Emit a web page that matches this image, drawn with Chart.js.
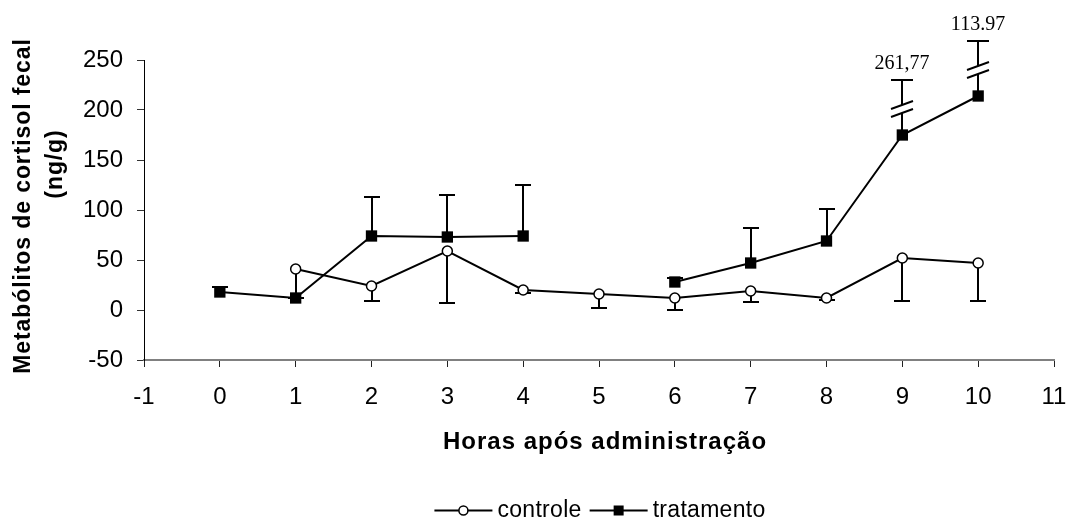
<!DOCTYPE html>
<html lang="pt">
<head>
<meta charset="utf-8">
<title>Metabólitos de cortisol fecal</title>
<script src="https://cdn.jsdelivr.net/npm/chart.js@4.4.1/dist/chart.umd.min.js"></script>
<style>
  html, body { margin: 0; padding: 0; background: #fff; }
  #wrap { width: 1071px; height: 520px; }
</style>
</head>
<body>
<div id="wrap"><canvas id="c" width="1071" height="520"></canvas></div>
<script>
// Hours after administration
const hours = [0, 1, 2, 3, 4, 5, 6, 7, 8, 9, 10];

// Control group: means and downward error (ng/g)
const controle      = [null, 41, 24, 59, 20, 16, 12, 19, 12, 52, 47];
const controleErro  = [null, 29, 15, 52, 3, 14, 12, 11, 2, 43, 38];

// Treated group: means and upward error (ng/g)
const tratamento      = [18, 12, 74, 73, 74, null, 28, 47, 69, 175, 214];
const tratamentoErro  = [5, 0, 39, 42, 51, null, 4, 35, 32, 261.77, 113.97];
const tratamentoRotulo = [null, null, null, null, null, null, null, null, null, '261,77', '113.97'];

// Axis ranges
const xMin = -1, xMax = 11, xStep = 1;
const yMin = -50, yMax = 250, yStep = 50;

const SANS = '"Liberation Sans", Arial, Helvetica, sans-serif';
const SERIF = '"Liberation Serif", "Times New Roman", serif';

Chart.defaults.font.family = SANS;
Chart.defaults.color = '#000';

const toPoints = (vals) => hours.map((h, i) => ({ x: h, y: vals[i] }));

// Vertical error bars; bars running past the top of the axis get a break mark
const errorBars = {
  id: 'errorBars',
  beforeDatasetsDraw(chart) {
    const { ctx, scales: { x, y } } = chart;
    ctx.save();
    ctx.strokeStyle = '#000';
    ctx.fillStyle = '#000';
    ctx.lineWidth = 2;
    ctx.lineCap = 'butt';
    const seg = (x1, y1, x2, y2) => { ctx.beginPath(); ctx.moveTo(x1, y1); ctx.lineTo(x2, y2); ctx.stroke(); };
    chart.data.datasets.forEach(ds => {
      const err = ds.errors, dir = ds.errorDir, labels = ds.errorLabels || [];
      ds.data.forEach((p, i) => {
        if (p.y == null || !err[i]) return;
        const px = Math.round(x.getPixelForValue(p.x));
        const py = y.getPixelForValue(p.y);
        const end = p.y + dir * err[i];
        if (dir > 0 && end > y.max) {
          const yb = py - 26;          // centre of the break
          const yc = yb - 29;          // cap above the break
          seg(px, py, px, yb + 4);
          seg(px, yb - 4, px, yc);
          seg(px - 11, yc, px + 11, yc);
          seg(px - 11, yb + 8, px + 11, yb);
          seg(px - 11, yb, px + 11, yb - 8);
          if (labels[i]) {
            ctx.font = '20px ' + SERIF;
            ctx.textAlign = 'center';
            ctx.textBaseline = 'alphabetic';
            ctx.fillText(labels[i], px, yc - 11);
          }
        } else {
          const pe = y.getPixelForValue(end);
          seg(px, py, px, pe);
          seg(px - 8, pe, px + 8, pe);
        }
      });
    });
    ctx.restore();
  }
};

// Axis titles and the legend row
const decorations = {
  id: 'decorations',
  afterDraw(chart) {
    const ctx = chart.ctx;
    ctx.save();
    ctx.fillStyle = '#000';
    ctx.strokeStyle = '#000';

    // x title
    ctx.font = 'bold 24px ' + SANS;
    ctx.letterSpacing = '1px';
    ctx.textAlign = 'center';
    ctx.textBaseline = 'alphabetic';
    ctx.fillText('Horas após administração', 605, 449);

    // y title, two rotated lines
    ctx.font = 'bold 23px ' + SANS;
    ctx.letterSpacing = '0.9px';
    ctx.save();
    ctx.translate(30, 206);
    ctx.rotate(-Math.PI / 2);
    ctx.fillText('Metabólitos de cortisol fecal', 0, 0);
    ctx.restore();
    ctx.save();
    ctx.translate(62, 164);
    ctx.rotate(-Math.PI / 2);
    ctx.fillText('(ng/g)', 0, 0);
    ctx.restore();

    // legend
    ctx.font = '23px ' + SANS;
    ctx.letterSpacing = '0.3px';
    ctx.textAlign = 'left';
    const items = chart.data.datasets.map(ds => ({ text: ds.label, style: ds.pointStyle }));
    const symW = 58, gapT = 5, gapI = 8, ly = 510.5, tb = 517;
    const widths = items.map(it => ctx.measureText(it.text).width);
    let total = 0;
    items.forEach((it, i) => { total += symW + gapT + widths[i] + (i < items.length - 1 ? gapI : 0); });
    let cx = 600 - total / 2;
    items.forEach((it, i) => {
      ctx.lineWidth = 2;
      ctx.beginPath(); ctx.moveTo(cx, ly); ctx.lineTo(cx + symW, ly); ctx.stroke();
      const mx = cx + symW / 2;
      if (it.style === 'circle') {
        ctx.beginPath(); ctx.arc(mx, ly, 4.5, 0, Math.PI * 2);
        ctx.fillStyle = '#fff'; ctx.fill();
        ctx.lineWidth = 1.5; ctx.stroke();
      } else {
        ctx.fillStyle = '#000';
        ctx.fillRect(mx - 5, ly - 5, 10, 10);
      }
      ctx.fillStyle = '#000';
      ctx.fillText(it.text, cx + symW + gapT, tb);
      cx += symW + gapT + widths[i] + gapI;
    });
    ctx.restore();
  }
};

new Chart(document.getElementById('c'), {
  type: 'line',
  data: {
    datasets: [
      {
        label: 'controle',
        data: toPoints(controle),
        errors: controleErro,
        errorDir: -1,
        borderColor: '#000',
        borderWidth: 2,
        pointStyle: 'circle',
        pointRadius: 5,
        pointHoverRadius: 5,
        pointBackgroundColor: '#fff',
        pointBorderColor: '#000',
        pointBorderWidth: 1.5,
        spanGaps: false,
        tension: 0
      },
      {
        label: 'tratamento',
        data: toPoints(tratamento),
        errors: tratamentoErro,
        errorLabels: tratamentoRotulo,
        errorDir: 1,
        borderColor: '#000',
        borderWidth: 2,
        pointStyle: 'rect',
        pointRadius: 8,
        pointHoverRadius: 8,
        pointBackgroundColor: '#000',
        pointBorderColor: '#000',
        pointBorderWidth: 0,
        spanGaps: false,
        tension: 0
      }
    ]
  },
  options: {
    responsive: false,
    animation: false,
    events: [],
    layout: { padding: { top: 60, right: 17, bottom: 0, left: 0 } },
    plugins: { legend: { display: false }, tooltip: { enabled: false } },
    scales: {
      x: {
        type: 'linear',
        min: xMin, max: xMax,
        afterFit(s) { s.height = 160; s.paddingLeft = 0; s.paddingRight = 0; },
        border: { display: true, color: '#808080', width: 2 },
        grid: { drawOnChartArea: false, drawTicks: true, tickLength: 7, color: '#222', tickWidth: 1 },
        ticks: { stepSize: xStep, padding: 16, color: '#000', font: { size: 24 }, maxRotation: 0, autoSkip: false }
      },
      y: {
        min: yMin, max: yMax,
        afterFit(s) { s.width = 144; s.paddingTop = 0; s.paddingBottom = 0; },
        border: { display: true, color: '#000', width: 1 },
        grid: { drawOnChartArea: false, drawTicks: true, tickLength: 7, color: '#333', tickWidth: 1 },
        ticks: { stepSize: yStep, padding: 14, color: '#000', font: { size: 24 } }
      }
    }
  },
  plugins: [errorBars, decorations]
});
</script>
</body>
</html>
